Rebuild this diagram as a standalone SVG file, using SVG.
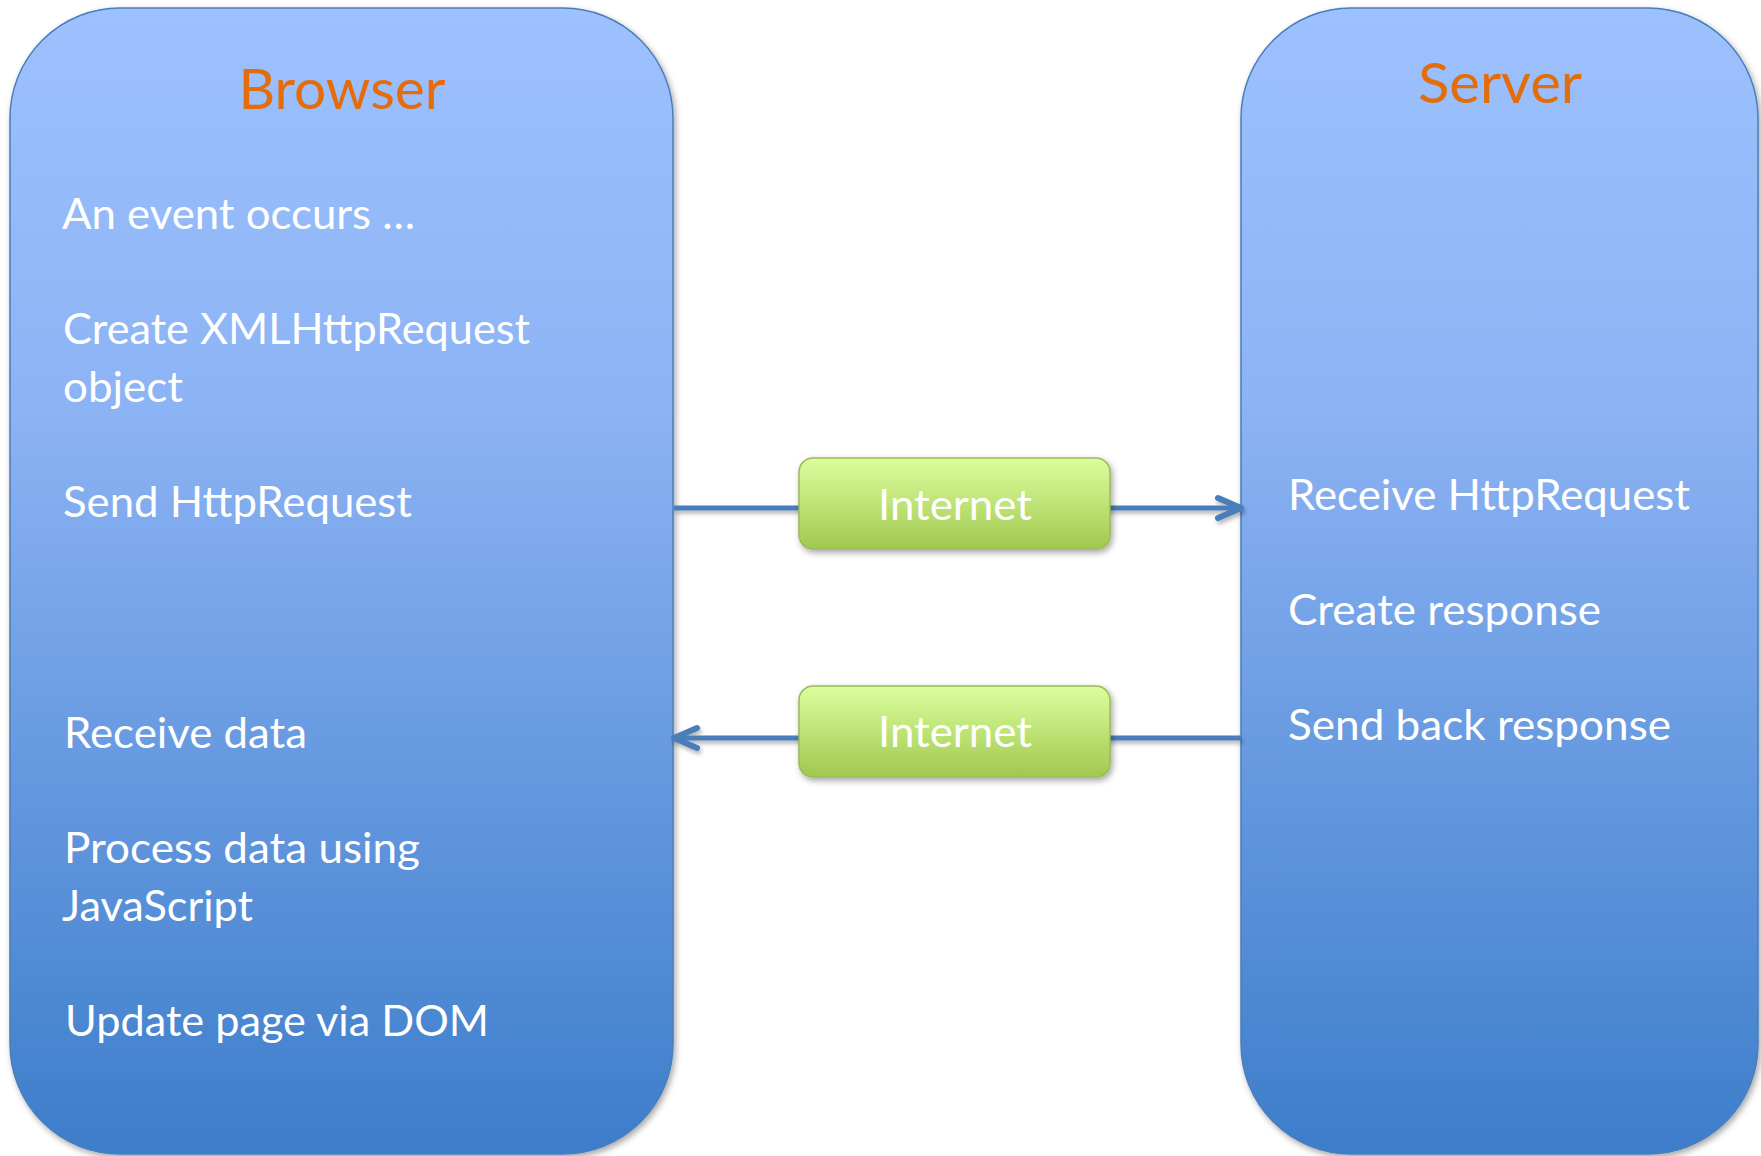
<svg xmlns="http://www.w3.org/2000/svg" width="1761" height="1156" viewBox="0 0 1761 1156">
  <defs>
    <linearGradient id="blueFill" x1="0" y1="0" x2="0" y2="1">
      <stop offset="0" stop-color="#9DC1FE"/>
      <stop offset="0.35" stop-color="#8CB3F4"/>
      <stop offset="1" stop-color="#3D7DCA"/>
    </linearGradient>
    <linearGradient id="greenFill" x1="0" y1="0" x2="0" y2="1">
      <stop offset="0" stop-color="#DCFE9E"/>
      <stop offset="1" stop-color="#A0C94F"/>
    </linearGradient>
    <filter id="shadow" x="-10%" y="-10%" width="120%" height="130%">
      <feDropShadow dx="2" dy="3" stdDeviation="3" flood-color="#000" flood-opacity="0.35"/>
    </filter>
    <!-- wires are zero-height, so their shadow region is set in canvas units -->
    <filter id="wireShadow" filterUnits="userSpaceOnUse" x="0" y="0" width="1761" height="1156">
      <feDropShadow dx="1.5" dy="3" stdDeviation="2" flood-color="#000" flood-opacity="0.3"/>
    </filter>
    <marker id="chevron" viewBox="0 0 32 28" refX="28" refY="14" markerWidth="32" markerHeight="28" markerUnits="userSpaceOnUse" orient="auto">
      <path d="M5,4 L28,14 L5,24" fill="none" stroke="#4A7EBB" stroke-width="6" stroke-linecap="round" stroke-linejoin="round"/>
    </marker>
  </defs>
  <style>
    .panel { fill: url(#blueFill); stroke: #4A7EBB; stroke-width: 1.5; filter: url(#shadow); }
    .cloud { fill: url(#greenFill); stroke: #9BBB59; stroke-width: 1.5; filter: url(#shadow); }
    .title { font-family: Lato, "Open Sans", sans-serif; font-size: 57px; fill: #E46C0A; text-anchor: middle; }
    .item { font-family: Lato, "Open Sans", sans-serif; font-size: 42px; fill: #FFFFFF; }
    .net { font-family: Lato, "Open Sans", sans-serif; font-size: 42px; fill: #FFFFFF; text-anchor: middle; }
    .wire { fill: none; stroke: #4A7EBB; stroke-width: 5; }
  </style>

  <rect width="1761" height="1156" fill="#FFFFFF"/>

  <!-- Browser column -->
  <g id="browser">
    <rect class="panel" x="10" y="8" width="663" height="1146" rx="110" ry="110"/>
    <text class="title" x="342" y="109" textLength="207" lengthAdjust="spacingAndGlyphs">Browser</text>
    <text class="item" x="62" y="229" textLength="353" lengthAdjust="spacingAndGlyphs">An event occurs …</text>
    <text class="item" x="63" y="344" textLength="467" lengthAdjust="spacingAndGlyphs">Create XMLHttpRequest</text>
    <text class="item" x="63" y="402" textLength="120" lengthAdjust="spacingAndGlyphs">object</text>
    <text class="item" x="63" y="517" textLength="349" lengthAdjust="spacingAndGlyphs">Send HttpRequest</text>
    <text class="item" x="64" y="748" textLength="243" lengthAdjust="spacingAndGlyphs">Receive data</text>
    <text class="item" x="64" y="863" textLength="356" lengthAdjust="spacingAndGlyphs">Process data using</text>
    <text class="item" x="62" y="921" textLength="191" lengthAdjust="spacingAndGlyphs">JavaScript</text>
    <text class="item" x="65" y="1036" textLength="424" lengthAdjust="spacingAndGlyphs">Update page via DOM</text>
  </g>

  <!-- Server column -->
  <g id="server">
    <rect class="panel" x="1241" y="8" width="517" height="1146" rx="110" ry="110"/>
    <text class="title" x="1500" y="103" textLength="164" lengthAdjust="spacingAndGlyphs">Server</text>
    <text class="item" x="1288" y="510" textLength="402" lengthAdjust="spacingAndGlyphs">Receive HttpRequest</text>
    <text class="item" x="1288" y="625" textLength="313" lengthAdjust="spacingAndGlyphs">Create response</text>
    <text class="item" x="1288" y="740" textLength="383" lengthAdjust="spacingAndGlyphs">Send back response</text>
  </g>

  <!-- Request and response wires -->
  <g id="connectors" filter="url(#wireShadow)">
    <line class="wire" x1="674" y1="508" x2="1241" y2="508" marker-end="url(#chevron)"/>
    <line class="wire" x1="1241" y1="738" x2="674" y2="738" marker-end="url(#chevron)"/>
  </g>

  <!-- Network hops -->
  <g id="internet-request">
    <rect class="cloud" x="799" y="458" width="311" height="91" rx="14" ry="14"/>
    <text class="net" x="955" y="520" textLength="154" lengthAdjust="spacingAndGlyphs">Internet</text>
  </g>
  <g id="internet-response">
    <rect class="cloud" x="799" y="686" width="311" height="91" rx="14" ry="14"/>
    <text class="net" x="955" y="747" textLength="154" lengthAdjust="spacingAndGlyphs">Internet</text>
  </g>
</svg>
